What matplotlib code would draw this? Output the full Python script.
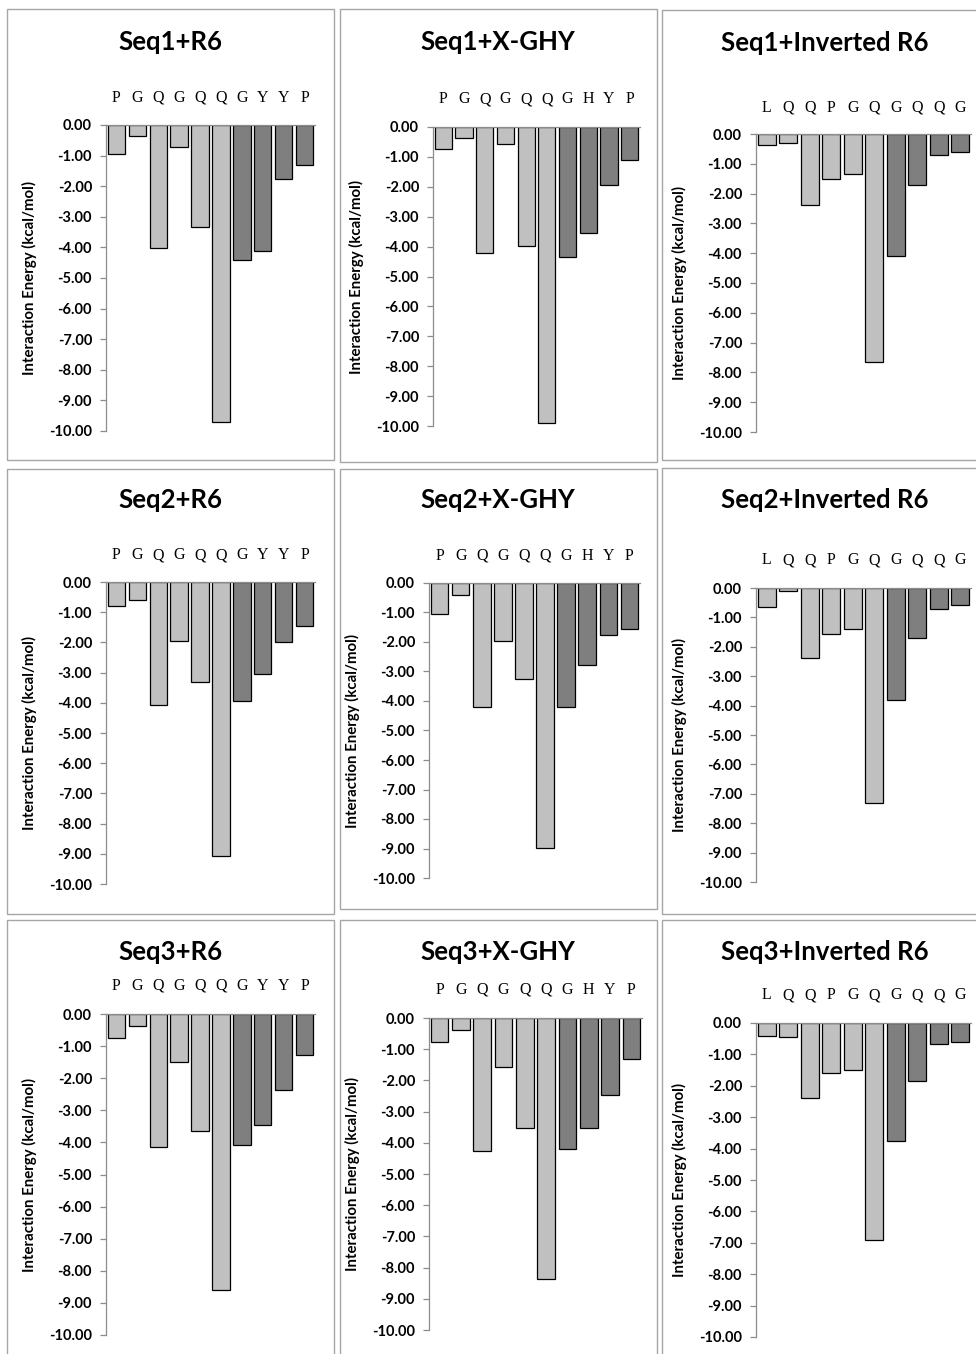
import matplotlib
matplotlib.use("Agg")
import matplotlib.pyplot as plt
from matplotlib.patches import Rectangle

# residues along each peptide
res_r6 = ['P', 'G', 'Q', 'G', 'Q', 'Q', 'G', 'Y', 'Y', 'P']
res_xghy = ['P', 'G', 'Q', 'G', 'Q', 'Q', 'G', 'H', 'Y', 'P']
res_inv = ['L', 'Q', 'Q', 'P', 'G', 'Q', 'G', 'Q', 'Q', 'G']

# interaction energies (kcal/mol)
seq1_r6 = [-0.96, -0.35, -4.01, -0.71, -3.32, -9.69, -4.42, -4.13, -1.78, -1.31]
seq1_xghy = [-0.74, -0.38, -4.21, -0.58, -3.98, -9.90, -4.34, -3.53, -1.93, -1.09]
seq1_inv = [-0.36, -0.30, -2.39, -1.51, -1.34, -7.65, -4.09, -1.71, -0.70, -0.60]
seq2_r6 = [-0.80, -0.61, -4.08, -1.94, -3.31, -9.08, -3.94, -3.06, -1.98, -1.47]
seq2_xghy = [-1.04, -0.40, -4.21, -1.97, -3.26, -8.99, -4.21, -2.77, -1.77, -1.56]
seq2_inv = [-0.63, -0.11, -2.39, -1.55, -1.39, -7.31, -3.81, -1.69, -0.70, -0.57]
seq3_r6 = [-0.76, -0.37, -4.15, -1.50, -3.65, -8.60, -4.09, -3.46, -2.37, -1.27]
seq3_xghy = [-0.77, -0.37, -4.25, -1.57, -3.51, -8.35, -4.19, -3.51, -2.46, -1.32]
seq3_inv = [-0.42, -0.44, -2.40, -1.58, -1.49, -6.91, -3.75, -1.86, -0.67, -0.59]

titles = ['Seq1+R6', 'Seq1+X-GHY', 'Seq1+Inverted R6',
          'Seq2+R6', 'Seq2+X-GHY', 'Seq2+Inverted R6',
          'Seq3+R6', 'Seq3+X-GHY', 'Seq3+Inverted R6']
labels = [res_r6, res_xghy, res_inv] * 3
energies = [seq1_r6, seq1_xghy, seq1_inv,
            seq2_r6, seq2_xghy, seq2_inv,
            seq3_r6, seq3_xghy, seq3_inv]

W, H = 976, 1354

# layout in pixels: frame box, axis left x, axis right x, y of 0, y of -10, y of residue labels, title y
frames = [(7, 9, 334, 460), (340, 9, 657, 462), (662, 10, 1000, 460),
          (7, 469, 334, 914), (340, 469, 657, 909), (662, 468, 1000, 914),
          (7, 920, 334, 1360), (340, 920, 657, 1360), (662, 920, 1000, 1360)]
axes_px = [(106, 315, 125, 431, 100, 42), (433, 640, 127, 426, 101, 42), (756, 971, 134, 432, 110, 43),
           (106, 315, 582, 884, 557, 500), (429, 640, 583, 878, 558, 500), (756, 971, 588, 882, 562, 500),
           (106, 315, 1014, 1335, 988, 952), (429, 642, 1018, 1330, 992, 952), (756, 971, 1023, 1337, 997, 952)]
title_x = [170, 498, 825]

light = '#c0c0c0'
dark = '#7f7f7f'
axis_grey = '#8c8c8c'

fig = plt.figure(figsize=(W / 100, H / 100), dpi=100)

for i in range(9):
    x0, y0, x1, y1 = frames[i]
    fig.patches.append(Rectangle((x0 / W, 1 - y1 / H), (x1 - x0) / W, (y1 - y0) / H,
                                 transform=fig.transFigure, fill=False,
                                 edgecolor='#a6a6a6', linewidth=1.0))

    ax_l, ax_r, y_zero, y_ten, y_lab, y_title = axes_px[i]
    ax = fig.add_axes([ax_l / W, 1 - y_ten / H, (ax_r - ax_l) / W, (y_ten - y_zero) / H])

    vals = energies[i]
    cols = [light] * 6 + [dark] * 4
    ax.bar(range(len(vals)), vals, width=0.83, color=cols, edgecolor='black', linewidth=0.9)

    ax.set_xlim(-0.5, len(vals) - 0.5)
    ax.set_ylim(-10, 0)
    ax.set_yticks(range(-10, 1))
    ax.set_yticklabels([f'{v:.2f}' for v in range(-10, 1)], fontsize=10.5,
                       fontweight='bold', family='Lato')
    ax.tick_params(axis='y', length=4, color=axis_grey, width=0.9, pad=6)

    ax.set_xticks(range(len(vals)))
    ax.set_xticklabels(labels[i], fontsize=11.5, family='Liberation Serif')
    pad = (y_zero - y_lab - 6) * 0.72
    ax.tick_params(axis='x', top=True, labeltop=True, bottom=False, labelbottom=False,
                   length=0, pad=pad)

    for s in ['right', 'bottom']:
        ax.spines[s].set_visible(False)
    ax.spines['left'].set_color(axis_grey)
    ax.spines['top'].set_color(axis_grey)
    ax.spines['left'].set_linewidth(0.9)
    ax.spines['top'].set_linewidth(0.9)
    ax.patch.set_alpha(0)

    fig.text((ax_l - 77) / W, 1 - (y_zero + y_ten) / 2 / H, 'Interaction Energy (kcal/mol)',
             rotation=90, ha='center', va='center', fontsize=10.8, fontweight='bold', family='Lato')
    fig.text(title_x[i % 3] / W, 1 - y_title / H, titles[i], ha='center', va='center',
             fontsize=18.5, fontweight='bold', family='Lato')

fig.savefig('out.png', dpi=100)
